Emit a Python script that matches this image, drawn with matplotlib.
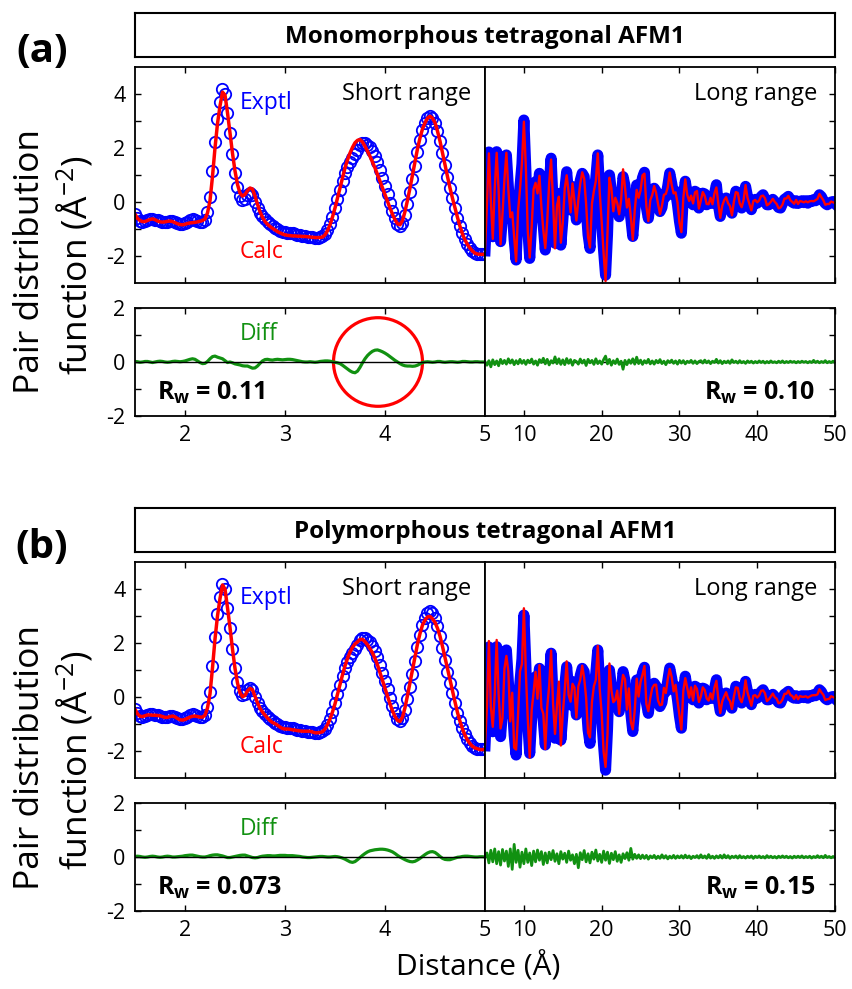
import numpy as np
import matplotlib
matplotlib.use("Agg")
import matplotlib.pyplot as plt
from matplotlib.patches import Ellipse

plt.rcParams['font.family'] = ['Open Sans', 'DejaVu Sans']
plt.rcParams['mathtext.default'] = 'regular'
plt.rcParams['axes.unicode_minus'] = False

BLUE = '#0000ff'
RED = '#ff0000'
GREEN = '#119111'

# --- data ---
# short range grid, 1.5-5 A
r_short = np.round(np.arange(1.5, 5.0001, 0.025), 3)

# measured G(r) (same experiment for both fits)
g_obs_short = [
    -0.43, -0.59, -0.69, -0.72, -0.70, -0.66, -0.64, -0.64, -0.65, -0.68,
    -0.70, -0.72, -0.73, -0.72, -0.70, -0.70, -0.73, -0.78, -0.82, -0.82,
    -0.78, -0.72, -0.67, -0.64, -0.65, -0.69, -0.73, -0.74, -0.67, -0.38,
    0.17, 1.15, 2.22, 3.08, 3.70, 4.18, 4.00, 3.28, 2.55, 1.77,
    1.08, 0.56, 0.22, 0.08, 0.13, 0.27, 0.33, 0.25, 0.00, -0.23,
    -0.41, -0.52, -0.63, -0.72, -0.82, -0.90, -0.94, -0.99, -1.05, -1.10,
    -1.12, -1.13, -1.14, -1.16, -1.18, -1.21, -1.23, -1.26, -1.27, -1.28,
    -1.28, -1.30, -1.32, -1.31, -1.29, -1.26, -1.17, -1.02, -0.81, -0.54,
    -0.23, 0.12, 0.46, 0.78, 1.07, 1.30, 1.48, 1.64, 1.79, 1.94,
    2.11, 2.19, 2.18, 2.12, 2.02, 1.88, 1.70, 1.47, 1.19, 0.90,
    0.60, 0.29, -0.02, -0.32, -0.59, -0.80, -0.90, -0.79, -0.49, -0.08,
    0.37, 0.84, 1.35, 1.85, 2.30, 2.68, 2.93, 3.11, 3.17, 3.09,
    2.93, 2.64, 2.27, 1.82, 1.37, 0.94, 0.53, 0.15, -0.22, -0.58,
    -0.90, -1.16, -1.38, -1.56, -1.70, -1.81, -1.88, -1.91, -1.93, -1.93,
    -1.93,
]

# difference curves (obs - calc), short range
g_diff_short_mono = [
    0.02, 0.01, -0.01, 0.00, 0.02, 0.02, 0.00, -0.02, 0.00, 0.02,
    0.03, 0.02, 0.00, -0.01, 0.00, 0.02, 0.03, 0.02, 0.01, 0.02,
    0.04, 0.07, 0.10, 0.12, 0.10, 0.04, -0.02, -0.06, -0.05, 0.02,
    0.12, 0.20, 0.22, 0.18, 0.15, 0.12, 0.05, -0.02, 0.00, -0.03,
    -0.07, -0.09, -0.11, -0.14, -0.15, -0.15, -0.19, -0.23, -0.22, -0.15,
    -0.05, 0.04, 0.09, 0.10, 0.08, 0.07, 0.09, 0.10, 0.09, 0.08,
    0.09, 0.10, 0.10, 0.09, 0.07, 0.05, 0.03, 0.01, 0.00, 0.00,
    0.01, 0.00, -0.01, 0.00, 0.02, 0.03, 0.04, 0.04, 0.03, 0.01,
    -0.01, -0.03, -0.06, -0.12, -0.19, -0.26, -0.33, -0.38, -0.40, -0.34,
    -0.20, -0.03, 0.12, 0.24, 0.33, 0.40, 0.44, 0.45, 0.42, 0.38,
    0.33, 0.27, 0.20, 0.13, 0.06, 0.00, -0.06, -0.11, -0.14, -0.15,
    -0.15, -0.16, -0.15, -0.12, -0.07, -0.02, 0.00, 0.01, 0.00, -0.01,
    0.00, 0.02, 0.02, 0.00, -0.01, 0.00, 0.01, 0.01, 0.00, -0.01,
    0.00, 0.02, 0.02, 0.01, 0.00, 0.00, 0.01, 0.01, 0.00, 0.00,
    0.00,
]
g_diff_short_poly = [
    0.02, 0.03, 0.02, 0.00, -0.01, 0.00, 0.02, 0.03, 0.02, 0.00,
    -0.01, 0.00, 0.02, 0.03, 0.02, 0.00, 0.00, 0.01, 0.02, 0.03,
    0.05, 0.06, 0.07, 0.07, 0.05, 0.03, 0.01, 0.00, 0.00, 0.02,
    0.05, 0.07, 0.08, 0.08, 0.06, 0.04, 0.01, -0.02, -0.02, 0.00,
    0.02, 0.04, 0.06, 0.07, 0.07, 0.04, 0.01, -0.02, -0.03, -0.02,
    0.01, 0.03, 0.04, 0.05, 0.05, 0.04, 0.04, 0.05, 0.06, 0.06,
    0.06, 0.05, 0.05, 0.05, 0.04, 0.03, 0.02, 0.00, -0.01, -0.02,
    -0.02, -0.01, 0.00, 0.01, 0.02, 0.02, 0.01, 0.00, 0.00, 0.01,
    0.02, 0.01, -0.01, -0.04, -0.08, -0.13, -0.18, -0.20, -0.17, -0.10,
    -0.02, 0.06, 0.13, 0.19, 0.23, 0.25, 0.27, 0.28, 0.29, 0.29,
    0.28, 0.26, 0.23, 0.19, 0.13, 0.06, 0.00, -0.05, -0.10, -0.14,
    -0.17, -0.18, -0.16, -0.11, -0.05, 0.02, 0.09, 0.15, 0.19, 0.20,
    0.17, 0.10, 0.02, -0.05, -0.09, -0.10, -0.10, -0.07, -0.04, -0.01,
    0.00, 0.02, 0.03, 0.03, 0.02, 0.01, 0.00, 0.00, 0.01, 0.01,
    0.00,
]

# long range grid, 5-50 A
r_long = np.round(np.arange(5.0, 50.0001, 0.25), 2)

g_obs_long = [
    -1.80, -0.20, 1.85, -0.10,   # 5
    -1.28, 0.40, 1.86, 0.30,     # 6
    -1.46, -0.50, 0.90, 1.74,    # 7
    0.60, -0.60, -0.30, -1.40,   # 8
    -2.14, -0.40, 0.57, 1.40,    # 9
    3.03, 1.20, -1.00, -2.08,    # 10
    -0.80, 0.40, 0.75, 0.20,     # 11
    1.06, -0.20, -0.90, -1.77,   # 12
    -0.60, 0.60, 1.62, 0.00,     # 13
    -1.52, -0.20, 0.32, -1.59,   # 14
    -0.70, 0.40, 1.12, 0.30,     # 15
    -0.29, 0.57, 0.10, -0.66,    # 16
    0.00, 0.80, 1.06, 0.94,      # 17
    -0.20, -1.20, -1.71, 0.00,   # 18
    0.32, 0.90, 1.74, 0.40,      # 19
    -0.80, -1.80, -2.70, -1.20,  # 20
    1.00, 0.40, -0.29, 0.10,     # 21
    0.08, -0.54, 0.10, 0.94,     # 22
    0.60, -0.30, 0.20, -0.60,    # 23
    -1.27, -0.40, 0.63, 0.10,    # 24
    0.50, 0.90, 1.10, -0.20,     # 25
    -0.60, 0.00, 0.30, 0.51,     # 26
    0.40, -0.10, -0.35, -0.20,   # 27
    0.30, 0.20, 0.60, 1.07,      # 28
    0.70, 0.27, 0.40, -0.10,     # 29
    -0.70, -1.15, 0.20, 0.77,    # 30
    0.30, 0.02, 0.30, -0.10,     # 31
    0.40, 0.35, -0.22, 0.10,     # 32
    0.33, 0.30, -0.10, -0.04,    # 33
    0.10, -0.05, 0.30, 0.64,     # 34
    -0.10, -0.53, -0.20, 0.10,   # 35
    0.15, 0.00, -0.20, -0.41,    # 36
    0.00, 0.40, 0.30, 0.00,      # 37
    -0.22, 0.10, 0.58, 0.20,     # 38
    -0.10, -0.28, 0.00, 0.10,    # 39
    -0.04, 0.10, 0.20, 0.27,     # 40
    0.10, -0.10, -0.10, 0.05,    # 41
    0.10, 0.02, -0.10, -0.20,    # 42
    -0.22, -0.05, 0.10, 0.15,    # 43
    0.21, 0.10, 0.00, -0.04,     # 44
    0.05, -0.05, 0.02, 0.05,     # 45
    -0.02, 0.05, -0.04, 0.05,    # 46
    0.02, 0.09, 0.05, 0.15,      # 47
    0.27, 0.20, 0.05, -0.05,     # 48
    -0.10, -0.05, 0.00, 0.02,    # 49
    -0.05,                       # 50
]

g_diff_long_mono = [
    0.00, -0.12, 0.05, -0.18, 0.08, -0.10, 0.04, -0.14, 0.10, -0.06,
    0.06, -0.08, 0.12, -0.04, 0.08, -0.10, 0.05, -0.07, 0.10, -0.05, 0.06,
    -0.09, 0.07, -0.03, 0.11, -0.08, 0.04, -0.12, 0.09, -0.02, 0.14,
    -0.07, 0.10, -0.11, 0.05, -0.04, 0.19, -0.06, 0.12, -0.09, 0.08,
    -0.10, 0.13, -0.05, 0.09, -0.12, 0.06, 0.02, -0.08, 0.11, -0.04,
    0.07, -0.13, 0.10, -0.03, 0.06, -0.09, 0.12, -0.06, 0.04, -0.08,
    0.09, 0.22, -0.07, 0.10, -0.12, 0.05, -0.06, 0.11, -0.09, 0.03,
    -0.27, 0.06, -0.10, 0.08, -0.05, 0.12, -0.08, 0.18, -0.06, 0.07,
    -0.09, 0.05, -0.04, 0.10, -0.07, 0.04, -0.08, 0.06, -0.03, 0.09,
    -0.06, 0.03, -0.10, 0.05, -0.02, 0.07, -0.05, 0.04, -0.08, 0.06,
    -0.04, 0.05, -0.07, 0.03, -0.02, 0.06, -0.05, 0.04, -0.06, 0.02,
    0.05, -0.04, 0.07, -0.03, 0.04, -0.06, 0.03, -0.02, 0.10, -0.04,
    0.05, -0.06, 0.03, -0.03, 0.04, -0.05, 0.08, -0.02, 0.03, -0.04,
    0.05, -0.03, 0.02, -0.05, 0.04, -0.02, 0.03, -0.04, 0.02, -0.03,
    0.04, -0.02, 0.03, -0.04, 0.02, -0.03, 0.04, -0.02, 0.01, -0.03,
    0.03, -0.02, 0.04, -0.03, 0.02, -0.02, 0.03, -0.01, 0.02, -0.03,
    0.02, -0.02, 0.03, -0.01, 0.02, -0.03, 0.02, -0.02, 0.06, -0.02,
    0.03, -0.03, 0.02, -0.02, 0.05, -0.03, 0.02, -0.02, 0.03, -0.02,
]
g_diff_long_poly = [
    0.00, 0.15, -0.22, 0.25, -0.18, 0.30, -0.25, 0.20, -0.30, 0.28,
    -0.15, 0.22, -0.35, 0.30, -0.46, 0.47, -0.20, 0.25, -0.38, 0.18, -0.25,
    0.30, -0.20, 0.15, -0.32, 0.22, -0.18, 0.26, -0.12, 0.20, -0.28,
    0.15, -0.22, 0.18, -0.10, 0.24, -0.16, 0.12, -0.25, 0.20, -0.08,
    0.14, -0.20, 0.22, -0.12, 0.08, -0.25, 0.10, -0.40, 0.16, -0.10,
    0.24, -0.18, 0.12, -0.22, 0.18, -0.08, 0.26, -0.15, 0.10, -0.20,
    0.22, -0.12, 0.18, -0.24, 0.14, -0.10, 0.20, -0.16, 0.08, -0.20,
    0.12, -0.06, 0.16, -0.12, 0.32, -0.08, 0.10, -0.05, 0.08, -0.06,
    0.07, -0.05, 0.06, -0.08, 0.04, -0.03, 0.06, -0.06, 0.03, -0.05,
    0.08, -0.04, 0.05, -0.07, 0.03, -0.04, 0.06, -0.05, 0.04, -0.03,
    0.05, -0.04, 0.07, -0.03, 0.04, -0.06, 0.03, -0.02, 0.05, -0.04,
    0.08, -0.03, 0.04, -0.05, 0.09, -0.04, 0.03, -0.05, 0.04, -0.03,
    0.06, -0.04, 0.08, -0.03, 0.05, -0.05, 0.03, -0.02, 0.04, -0.04,
    0.05, -0.03, 0.02, -0.04, 0.03, -0.02, 0.04, -0.05, 0.03, -0.02,
    0.04, -0.03, 0.02, -0.04, 0.05, -0.02, 0.03, -0.03, 0.02, -0.04,
    0.03, -0.02, 0.04, -0.02, 0.03, -0.03, 0.02, -0.04, 0.03, -0.02,
    0.03, -0.02, 0.04, -0.03, 0.02, -0.02, 0.03, -0.04, 0.02, -0.02,
    0.05, -0.02, 0.03, -0.03, 0.06, -0.02, 0.02, -0.03, 0.02, -0.02,
]

panel_tags = ['(a)', '(b)']
panel_titles = ['Monomorphous tetragonal AFM1', 'Polymorphous tetragonal AFM1']
rw_short = ['0.11', '0.073']
rw_long = ['0.10', '0.15']
diff_short = [g_diff_short_mono, g_diff_short_poly]
diff_long = [g_diff_long_mono, g_diff_long_poly]

assert len(g_obs_short) == len(r_short) == len(g_diff_short_mono) == len(g_diff_short_poly)
assert len(g_obs_long) == len(r_long) == len(g_diff_long_mono) == len(g_diff_long_poly)

# --- layout (pixels of an 852 x 989 canvas) ---
W_PX, H_PX = 852, 989
XL, XM, XR = 135, 485, 835
PANEL_SHIFT = 495


def box(top, bottom, left, right):
    return [left / W_PX, 1 - bottom / H_PX, (right - left) / W_PX, (bottom - top) / H_PX]


def style(ax, side, labels_x):
    ax.tick_params(which='both', direction='in', length=4, width=1.0,
                   top=True, bottom=True, left=(side == 'left'), right=(side == 'right'),
                   labelleft=(side == 'left'), labelright=False,
                   labelbottom=labels_x, labelsize=15.5, pad=7)
    for s in ax.spines.values():
        s.set_linewidth(1.3)


fig = plt.figure(figsize=(8.52, 9.89), dpi=100)

for i in range(2):
    dy = i * PANEL_SHIFT
    g_obs_s = np.array(g_obs_short)
    g_obs_l = np.array(g_obs_long)
    d_s = np.array(diff_short[i])
    d_l = np.array(diff_long[i])
    # fitted curve follows from Gdiff = Gobs - Gcalc
    g_calc_s = g_obs_s - d_s
    g_calc_l = g_obs_l - d_l

    # title box
    tb = fig.add_axes(box(13 + dy, 57 + dy, XL, XR))
    tb.set_xticks([])
    tb.set_yticks([])
    for s in tb.spines.values():
        s.set_linewidth(1.5)
    tb.text(0.5, 0.46, panel_titles[i], transform=tb.transAxes, ha='center',
            va='center', fontsize=17.5, fontweight='bold')
    fig.text(42 / W_PX, 1 - (52 + dy) / H_PX, panel_tags[i], ha='center',
             va='center', fontsize=29, fontweight='bold')

    # G(r), short range
    ax1 = fig.add_axes(box(66.7 + dy, 283.3 + dy, XL, XM))
    ax1.plot(r_short, g_obs_s, 'o', ms=8.2, mfc='none', mec=BLUE, mew=1.3)
    ax1.plot(r_short, g_calc_s, color=RED, lw=2.5)
    ax1.set_xlim(1.5, 5)
    ax1.set_ylim(-3, 5)
    ax1.set_xticks([2, 3, 4, 5])
    ax1.set_yticks([-2, 0, 2, 4])
    ax1.set_yticks([-1, 1, 3], minor=True)
    style(ax1, 'left', False)
    ax1.text(2.55, 3.66, 'Exptl', color=BLUE, fontsize=16.5, va='center')
    ax1.text(2.55, -1.83, 'Calc', color=RED, fontsize=16.5, va='center')
    ax1.text(0.96, 0.875, 'Short range', transform=ax1.transAxes, ha='right',
             va='center', fontsize=17)

    # G(r), long range
    ax2 = fig.add_axes(box(66.7 + dy, 283.3 + dy, XM, XR))
    ax2.plot(r_long, g_obs_l, color=BLUE, lw=8, solid_joinstyle='round')
    ax2.plot(r_long, g_calc_l, color=RED, lw=1.7)
    ax2.set_xlim(5, 50)
    ax2.set_ylim(-3, 5)
    ax2.set_xticks([10, 20, 30, 40, 50])
    ax2.set_yticks([-2, 0, 2, 4])
    ax2.set_yticks([-1, 1, 3], minor=True)
    style(ax2, 'right', False)
    ax2.text(0.949, 0.875, 'Long range', transform=ax2.transAxes, ha='right',
             va='center', fontsize=17)

    # difference, short range
    ax3 = fig.add_axes(box(308.3 + dy, 415.7 + dy, XL, XM))
    ax3.plot(r_short, d_s, color=GREEN, lw=2.3)
    ax3.axhline(0, color='k', lw=1.0)
    ax3.set_xlim(1.5, 5)
    ax3.set_ylim(-2, 2)
    ax3.set_xticks([2, 3, 4, 5])
    ax3.set_yticks([-2, 0, 2])
    ax3.set_yticks([-1, 1], minor=True)
    style(ax3, 'left', True)
    ax3.text(2.55, 1.05, 'Diff', color=GREEN, fontsize=16.5, va='center')
    ax3.text(0.063, 0.15, 'R$_w$ = ' + rw_short[i], transform=ax3.transAxes,
             fontsize=18, fontweight='bold', va='baseline')
    if i == 0:
        ax3.add_patch(Ellipse((3.93, 0), 0.89, 3.3, fill=False, ec=RED, lw=2.3))

    # difference, long range
    ax4 = fig.add_axes(box(308.3 + dy, 415.7 + dy, XM, XR))
    ax4.plot(r_long, d_l, color=GREEN, lw=2.0)
    ax4.axhline(0, color='k', lw=1.0, zorder=1)
    ax4.set_xlim(5, 50)
    ax4.set_ylim(-2, 2)
    ax4.set_xticks([10, 20, 30, 40, 50])
    ax4.set_yticks([-2, 0, 2])
    ax4.set_yticks([-1, 1], minor=True)
    style(ax4, 'right', True)
    ax4.text(0.943, 0.15, 'R$_w$ = ' + rw_long[i], transform=ax4.transAxes,
             fontsize=18, fontweight='bold', va='baseline', ha='right')

    fig.text(30 / W_PX, 1 - (262 + dy) / H_PX, 'Pair distribution', rotation=90,
             ha='center', va='center', fontsize=25.5)
    fig.text(75 / W_PX, 1 - (265 + dy) / H_PX, 'function (Å$^{-2}$)', rotation=90,
             ha='center', va='center', fontsize=25.5)

fig.text(478 / W_PX, 1 - 967 / H_PX, 'Distance (Å)', ha='center', va='center',
         fontsize=21.5)

fig.savefig('out.png', dpi=100)
